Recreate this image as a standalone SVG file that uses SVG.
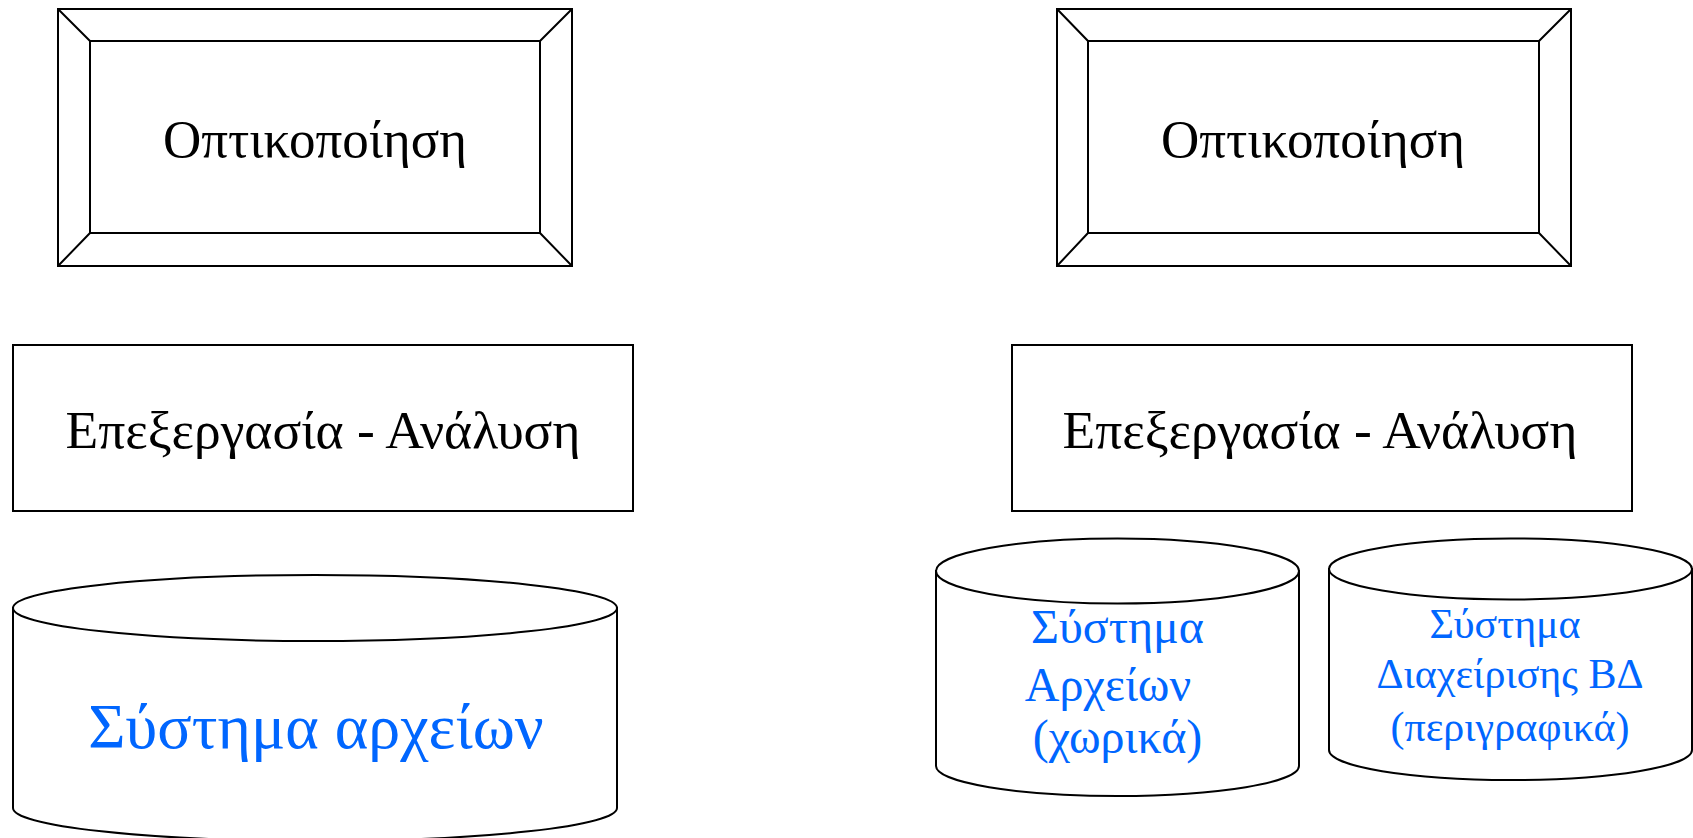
<svg xmlns="http://www.w3.org/2000/svg" width="1693" height="838" viewBox="0 0 1693 838">
<style>
.s{fill:#fff;stroke:#000;stroke-width:2}
.l{fill:none;stroke:#000;stroke-width:2}
.t{font-family:"Liberation Serif","Times New Roman",serif;text-anchor:middle;fill:#000}
.b{font-family:"Liberation Serif","Times New Roman",serif;text-anchor:middle;fill:#0066ff}
</style>
<rect width="1693" height="838" fill="#fff"/>
<g id="vis-left">
<rect class="s" x="58" y="9" width="514" height="257"/>
<rect class="s" x="90" y="41" width="450" height="192"/>
<path class="l" d="M58,9L90,41M572,9L540,41M58,266L90,233M572,266L540,233"/>
<text class="t" x="315" y="157" font-size="53">Οπτικοποίηση</text>
</g>
<g id="vis-right">
<rect class="s" x="1057" y="9" width="514" height="257"/>
<rect class="s" x="1088" y="41" width="451" height="192"/>
<path class="l" d="M1057,9L1088,41M1571,9L1539,41M1057,266L1088,233M1571,266L1539,233"/>
<text class="t" x="1313" y="157" font-size="53">Οπτικοποίηση</text>
</g>
<g id="proc-left">
<rect class="s" x="13" y="345" width="620" height="166"/>
<text class="t" x="323" y="448" font-size="53.5">Επεξεργασία - Ανάλυση</text>
</g>
<g id="proc-right">
<rect class="s" x="1012" y="345" width="620" height="166"/>
<text class="t" x="1320" y="448" font-size="53.5">Επεξεργασία - Ανάλυση</text>
</g>
<g id="fs-left">
<path class="s" d="M13,608L13,808A302,33 0 0 0 617,808L617,608Z"/>
<ellipse class="s" cx="315" cy="608" rx="302" ry="33"/>
<text class="b" x="316" y="748" font-size="64">Σύστημα αρχείων</text>
</g>
<g id="fs-right">
<path class="s" d="M936,571L936,766A181.5,30 0 0 0 1299,766L1299,571Z"/>
<ellipse class="s" cx="1117.5" cy="571" rx="181.5" ry="32.5"/>
<text class="b" font-size="48"><tspan x="1117.5" y="643">Σύστημα</tspan><tspan x="1108" y="701">Αρχείων</tspan><tspan x="1117.5" y="753">(χωρικά)</tspan></text>
</g>
<g id="dbms-right">
<path class="s" d="M1329,569L1329,750A181.5,30 0 0 0 1692,750L1692,569Z"/>
<ellipse class="s" cx="1510.5" cy="569" rx="181.5" ry="30.5"/>
<text class="b" font-size="42"><tspan x="1505" y="638">Σύστημα</tspan><tspan x="1510" y="688">Διαχείρισης ΒΔ</tspan><tspan x="1510" y="741">(περιγραφικά)</tspan></text>
</g>
<g id="connectors"></g>
</svg>
